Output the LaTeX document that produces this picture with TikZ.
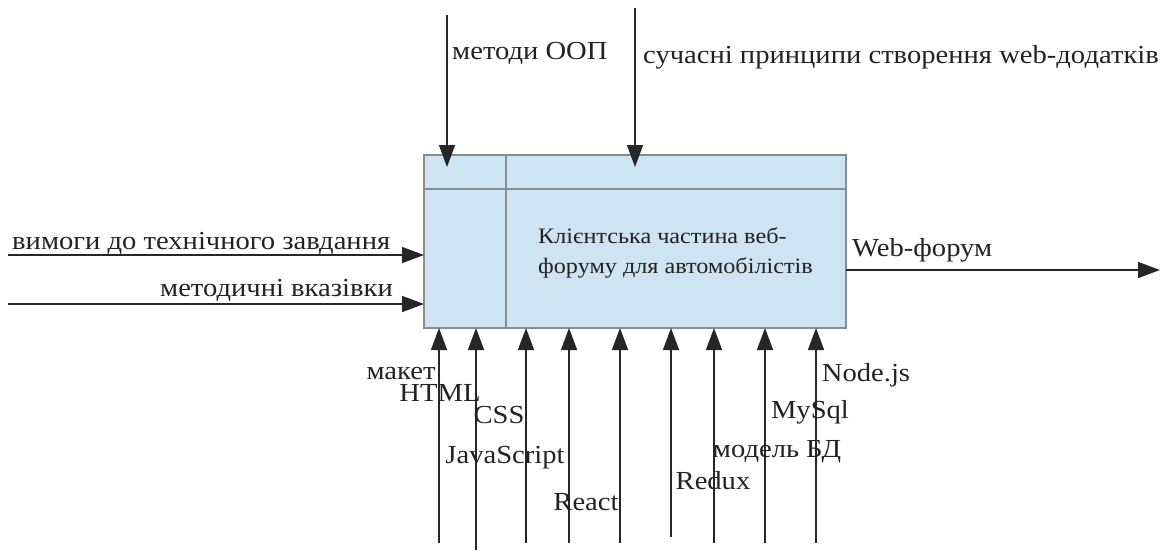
\documentclass[tikz,border=0pt]{standalone}
\usepackage{fontspec}
\setmainfont{Liberation Serif}
\newfontfamily\lblfont[FakeStretch=1.1]{Liberation Serif}
\usetikzlibrary{arrows.meta}
\definecolor{boxfill}{HTML}{CFE4F2}
\definecolor{boxline}{HTML}{858C92}
\definecolor{txt}{HTML}{222222}
\tikzset{
  arr/.style={line width=1.6pt, draw=black!85, -{Triangle[length=22pt,width=16pt]}},
  lbl/.style={font=\lblfont\fontsize{26}{28}\selectfont, text=txt, inner sep=0pt},
  blbl/.style={lbl, anchor=center}
}
\begin{document}
\begin{tikzpicture}[x=1pt,y=-1pt]
\useasboundingbox (0,0) rectangle (1161,550);
% main box
\node[draw=boxline, fill=boxfill, line width=1.5pt, minimum width=422pt, minimum height=173pt, inner sep=0pt] (box) at (635,241.5) {};
\draw[boxline, line width=1.5pt] (424,189) -- (846,189);
\draw[boxline, line width=1.5pt] (506,155) -- (506,328);
\node[lbl, align=left, anchor=west, font=\lblfont\fontsize{22}{30}\selectfont] (title) at (538,253) {Клієнтська частина веб-\\форуму для автомобілістів};
% controls (top)
\coordinate (c1s) at (447,15);
\coordinate (c1e) at (447,167);
\coordinate (c2s) at (635,8);
\coordinate (c2e) at (635,167);
\draw[arr] (c1s) -- (c1e);
\draw[arr] (c2s) -- (c2e);
\node[lbl, anchor=west] (lc1) at (452,53) {методи ООП};
\node[lbl, anchor=west] (lc2) at (643,57) {сучасні принципи створення web-додатків};
% inputs (left)
\coordinate (i1s) at (8,255);
\coordinate (i1e) at (424,255);
\coordinate (i2s) at (8,304);
\coordinate (i2e) at (424,304);
\draw[arr] (i1s) -- (i1e);
\draw[arr] (i2s) -- (i2e);
\node[lbl, anchor=west] (li1) at (12,243) {вимоги до технічного завдання};
\node[lbl, anchor=east] (li2) at (393,290) {методичні вказівки};
% output
\coordinate (o1s) at (846,270);
\coordinate (o1e) at (1160,270);
\draw[arr] (o1s) -- (o1e);
\node[lbl, anchor=west] (lo1) at (852,250) {Web-форум};
% mechanisms (bottom)
\foreach \n/\x/\yb in {m1/439/543, m2/476/550, m3/526/543, m4/569/543, m5/620/543, m6/671/537, m7/714/543, m8/765/543, m9/816/543}{
  \coordinate (\n s) at (\x,\yb);
  \coordinate (\n e) at (\x,328);
  \draw[arr] (\n s) -- (\n e);
}
\node[blbl] (lm1) at (401,373) {макет};
\node[blbl] (lm2) at (440,393) {HTML};
\node[blbl] (lm3) at (499,415) {CSS};
\node[blbl] (lm4) at (505,458) {JavaScript};
\node[blbl] (lm5) at (586,502) {React};
\node[blbl] (lm6) at (713,481) {Redux};
\node[blbl] (lm7) at (777,452) {модель БД};
\node[blbl] (lm8) at (810,412) {MySql};
\node[blbl] (lm9) at (866,375) {Node.js};
\end{tikzpicture}
\end{document}
